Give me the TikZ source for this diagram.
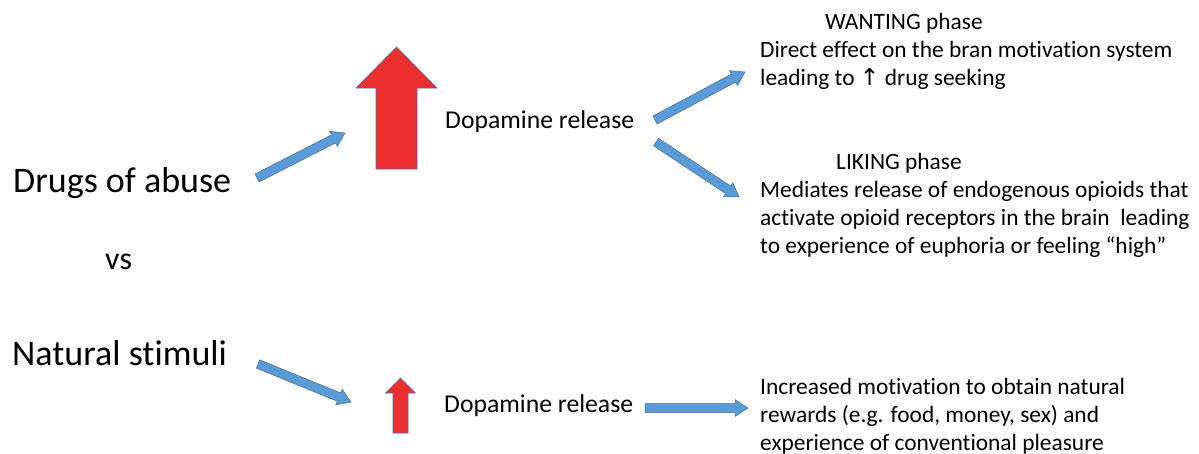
\documentclass[tikz,border=0pt]{standalone}
\usepackage{fontspec}
\setmainfont[Ligatures={NoCommon,NoContextual}]{Carlito}
\newfontfamily\symbfont{DejaVu Sans}
\usepackage{tikz}
\usetikzlibrary{calc}

\definecolor{arrowblue}{RGB}{91,155,213}
\definecolor{arrowedge}{RGB}{65,113,156}
\definecolor{arrowred}{RGB}{237,47,47}

% block arrow: [style]{from}{to}{half shaft}{half head}{head length}
\newcommand{\blockarrow}[6][flow arrow]{%
  \coordinate (ba-base) at ($(#3)!#6!(#2)$);
  \draw[#1] ($(#2)!#4!-90:(#3)$) -- ($(ba-base)!#4!-90:(#3)$)
    -- ($(ba-base)!#5!-90:(#3)$) -- (#3) -- ($(ba-base)!#5!90:(#3)$)
    -- ($(ba-base)!#4!90:(#3)$) -- ($(#2)!#4!90:(#3)$) -- cycle;}

\begin{document}
\begin{tikzpicture}[x=1pt,y=-1pt,
    every node/.style={inner sep=0pt,anchor=base west},
    big label/.style={font=\fontsize{36}{43}\selectfont},
    vs label/.style={font=\fontsize{32}{38}\selectfont},
    dopa label/.style={font=\fontsize{25.7}{31}\selectfont},
    effect label/.style={font=\fontsize{23.4}{28}\selectfont},
    effect text/.style={font=\fontsize{23.4}{28}\selectfont,align=left},
    flow arrow/.style={fill=arrowblue,draw=arrowedge,line width=0.5pt,line join=miter},
    rise arrow/.style={fill=arrowred,draw=arrowedge,line width=0.6pt,line join=miter}]
    \useasboundingbox (0,0) rectangle (1199,453);

    % left labels
    \node[big label] (drugs) at (13,192) {Drugs of abuse};
    \node[vs label] (vs) at (105,269) {vs};
    \node[big label] (natural) at (12,365) {Natural stimuli};

    % dopamine
    \node[dopa label] (dopa-top) at (445,128) {Dopamine release};
    \node[dopa label] (dopa-bottom) at (444,412) {Dopamine release};

    % effects (base = last line)
    \node[effect label] (wanting-title) at (825,29) {WANTING phase};
    \node[effect text] (wanting) at (760,85) {Direct effect on the bran motivation system\\
        leading to {\symbfont ↑} drug seeking};
    \node[effect label] (liking-title) at (836,169) {LIKING phase};
    \node[effect text] (liking) at (760,253) {Mediates release of endogenous opioids that\\
        activate opioid receptors in the brain\ \ leading\\
        to experience of euphoria or feeling “high”};
    \node[effect text] (reward) at (760,450) {Increased motivation to obtain natural\\
        rewards (e.g. food, money, sex) and\\
        experience of conventional pleasure};

    % arrow ends
    \coordinate (drugs-out) at (257,178);
    \coordinate (drugs-in) at (345,133);
    \coordinate (natural-out) at (258,364);
    \coordinate (natural-in) at (351,402);
    \coordinate (want-out) at (655,120);
    \coordinate (want-in) at (745,72);
    \coordinate (like-out) at (656,142);
    \coordinate (like-in) at (739,197);
    \coordinate (reward-out) at (645,408);
    \coordinate (reward-in) at (748,408);
    \coordinate (big-foot) at (396.5,169);
    \coordinate (big-tip) at (396.5,47);
    \coordinate (small-foot) at (400.5,433);
    \coordinate (small-tip) at (400.5,378);

    \blockarrow{drugs-out}{drugs-in}{4.5pt}{8.5pt}{13pt}
    \blockarrow{natural-out}{natural-in}{4.5pt}{8.5pt}{13pt}
    \blockarrow{want-out}{want-in}{4.5pt}{8.5pt}{13pt}
    \blockarrow{like-out}{like-in}{4.5pt}{8.5pt}{13pt}
    \blockarrow{reward-out}{reward-in}{4.5pt}{8.5pt}{13pt}
    \blockarrow[rise arrow]{big-foot}{big-tip}{20.5pt}{40.5pt}{41pt}
    \blockarrow[rise arrow]{small-foot}{small-tip}{7.5pt}{15pt}{15pt}
\end{tikzpicture}
\end{document}
